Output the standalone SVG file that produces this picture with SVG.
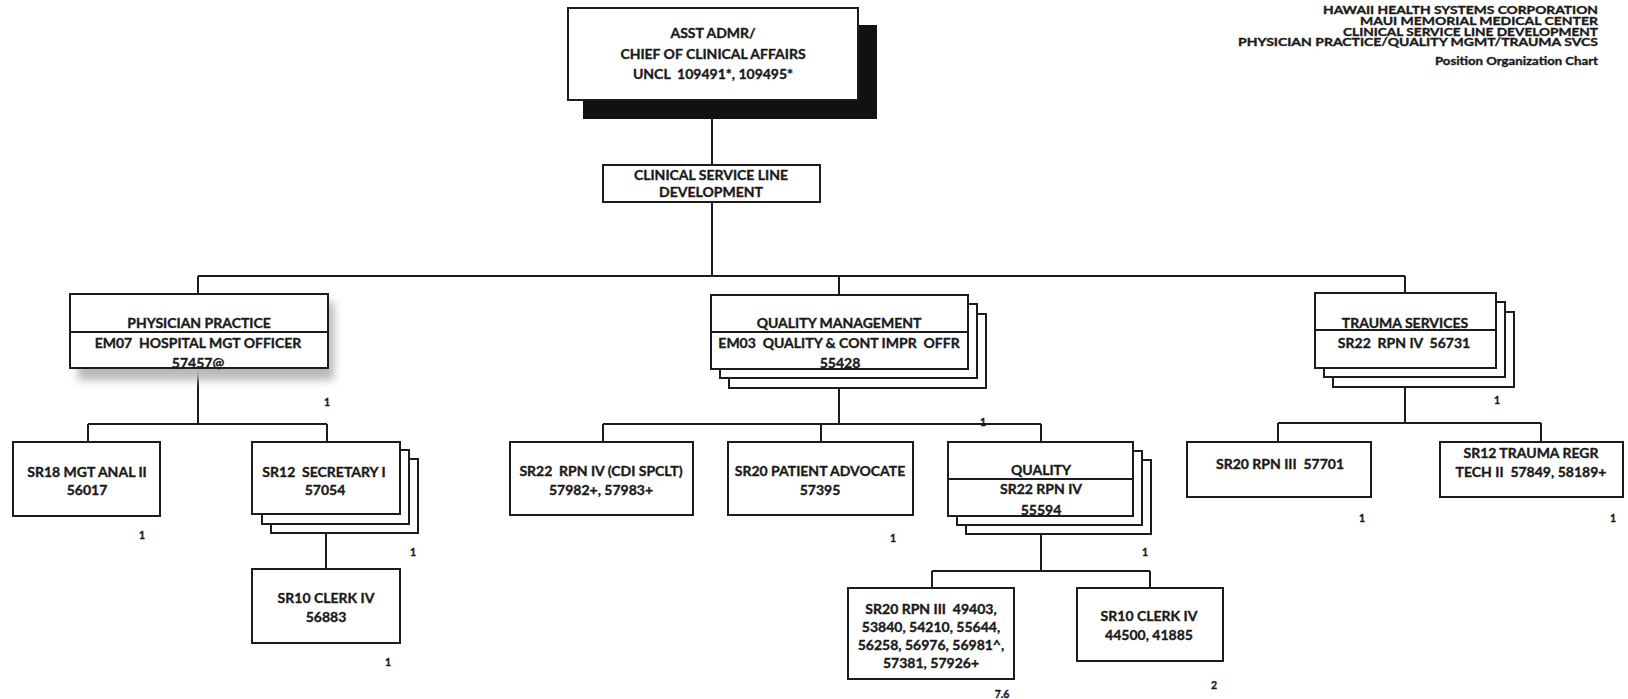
<svg xmlns="http://www.w3.org/2000/svg" width="1628" height="699" viewBox="0 0 1628 699">
<style>
.box{fill:#fff;stroke:#1c1c1c;stroke-width:2}
.ln{stroke:#1c1c1c;stroke-width:2;fill:none}
text{font-family:Lato,"Liberation Sans",sans-serif;font-weight:700;fill:#1a1a1a;stroke:#1a1a1a;stroke-width:0.35;white-space:pre}
.t{font-size:14px;text-anchor:middle}
.h{font-size:11.5px;text-anchor:end}
.n{font-size:10.5px;text-anchor:middle}
</style>
<defs>
<filter id="soft" x="-20%" y="-30%" width="140%" height="160%"><feGaussianBlur stdDeviation="4"/></filter>
</defs>
<rect width="1628" height="699" fill="#fff"/>

<g id="header">
<text class="h" x="1598" y="14" textLength="275" lengthAdjust="spacingAndGlyphs">HAWAII HEALTH SYSTEMS CORPORATION</text>
<text class="h" x="1598" y="25" textLength="238" lengthAdjust="spacingAndGlyphs">MAUI MEMORIAL MEDICAL CENTER</text>
<text class="h" x="1598" y="36" textLength="255" lengthAdjust="spacingAndGlyphs">CLINICAL SERVICE LINE DEVELOPMENT</text>
<text class="h" x="1598" y="46" textLength="360" lengthAdjust="spacingAndGlyphs">PHYSICIAN PRACTICE/QUALITY MGMT/TRAUMA SVCS</text>
<text class="h" x="1598" y="65" textLength="163" lengthAdjust="spacingAndGlyphs">Position Organization Chart</text>
</g>

<g id="connectors">
<path class="ln" d="M712 119V165M712 202V276M198 276H1405M198 276V294M839 276V295M1405 276V293"/>
<path class="ln" d="M198 368V424M88 424H327M88 424V442M327 424V442M326 514V569"/>
<path class="ln" d="M839 369V424M603 424H1041M603 424V442M821 424V442M1041 424V442"/>
<path class="ln" d="M1041 516V571M932 571H1150M932 571V588M1150 571V588"/>
<path class="ln" d="M1405 368V423M1278 423H1541M1278 423V442M1541 423V442"/>
</g>

<g id="n-chief">
<rect x="583" y="25" width="294" height="94" fill="#111"/>
<rect class="box" x="568" y="8" width="290" height="92"/>
<text class="t" x="713" y="38">ASST ADMR/</text>
<text class="t" x="713" y="59">CHIEF OF CLINICAL AFFAIRS</text>
<text class="t" x="713" y="79">UNCL  109491*, 109495*</text>
</g>

<g id="n-csl">
<rect class="box" x="603" y="165" width="217" height="37"/>
<text class="t" x="711" y="180">CLINICAL SERVICE LINE</text>
<text class="t" x="711" y="197">DEVELOPMENT</text>
</g>

<g id="n-physician">
<rect x="78" y="302" width="256" height="78" fill="#b8b8b8" filter="url(#soft)"/>
<rect class="box" x="70" y="294" width="258" height="74"/>
<path class="ln" d="M70 332H328"/>
<text class="t" x="199" y="328">PHYSICIAN PRACTICE</text>
<text class="t" x="198" y="348">EM07  HOSPITAL MGT OFFICER</text>
<text class="t" x="198" y="368">57457@</text>
<text class="n" x="327" y="406">1</text>
</g>

<g id="n-qm">
<rect class="box" x="729" y="314" width="257" height="74"/>
<rect class="box" x="720" y="304" width="257" height="74"/>
<rect class="box" x="711" y="295" width="257" height="74"/>
<path class="ln" d="M711 332H968"/>
<text class="t" x="839" y="328">QUALITY MANAGEMENT</text>
<text class="t" x="839" y="348">EM03  QUALITY &amp; CONT IMPR  OFFR</text>
<text class="t" x="840" y="368">55428</text>
<text class="n" x="983" y="426">1</text>
</g>

<g id="n-trauma">
<rect class="box" x="1333" y="312" width="181" height="75"/>
<rect class="box" x="1324" y="302" width="181" height="75"/>
<rect class="box" x="1315" y="293" width="181" height="75"/>
<path class="ln" d="M1315 330H1496"/>
<text class="t" x="1405" y="328">TRAUMA SERVICES</text>
<text class="t" x="1404" y="348">SR22  RPN IV  56731</text>
<text class="n" x="1497" y="404">1</text>
</g>

<g id="n-sr18">
<rect class="box" x="13" y="442" width="147" height="74"/>
<text class="t" x="87" y="477">SR18 MGT ANAL II</text>
<text class="t" x="87" y="495">56017</text>
<text class="n" x="142" y="539">1</text>
</g>

<g id="n-secretary">
<rect class="box" x="271" y="459" width="147" height="74"/>
<rect class="box" x="262" y="450" width="147" height="74"/>
<rect class="box" x="252" y="442" width="148" height="72"/>
<text class="t" x="324" y="477">SR12  SECRETARY I</text>
<text class="t" x="325" y="495">57054</text>
<text class="n" x="413" y="556">1</text>
</g>

<g id="n-clerk1">
<rect class="box" x="252" y="569" width="148" height="74"/>
<text class="t" x="326" y="603">SR10 CLERK IV</text>
<text class="t" x="326" y="622">56883</text>
<text class="n" x="388" y="666">1</text>
</g>

<g id="n-cdi">
<rect class="box" x="510" y="442" width="183" height="73"/>
<text class="t" x="601" y="476">SR22  RPN IV (CDI SPCLT)</text>
<text class="t" x="601" y="495">57982+, 57983+</text>
</g>

<g id="n-advocate">
<rect class="box" x="728" y="442" width="185" height="73"/>
<text class="t" x="820" y="476">SR20 PATIENT ADVOCATE</text>
<text class="t" x="820" y="495">57395</text>
<text class="n" x="893" y="542">1</text>
</g>

<g id="n-quality">
<rect class="box" x="966" y="460" width="185" height="74"/>
<rect class="box" x="957" y="451" width="185" height="74"/>
<rect class="box" x="948" y="442" width="185" height="74"/>
<path class="ln" d="M948 479H1133"/>
<text class="t" x="1041" y="475">QUALITY</text>
<text class="t" x="1041" y="494">SR22 RPN IV</text>
<text class="t" x="1041" y="515">55594</text>
<text class="n" x="1145" y="556">1</text>
</g>

<g id="n-rpn3">
<rect class="box" x="848" y="588" width="166" height="91"/>
<text class="t" x="931" y="614">SR20 RPN III  49403,</text>
<text class="t" x="931" y="632">53840, 54210, 55644,</text>
<text class="t" x="931" y="650">56258, 56976, 56981^,</text>
<text class="t" x="931" y="668">57381, 57926+</text>
<text class="n" x="1002" y="698">7.6</text>
</g>

<g id="n-clerk2">
<rect class="box" x="1077" y="588" width="146" height="73"/>
<text class="t" x="1149" y="621">SR10 CLERK IV</text>
<text class="t" x="1149" y="640">44500, 41885</text>
<text class="n" x="1214" y="689">2</text>
</g>

<g id="n-rpn3b">
<rect class="box" x="1187" y="442" width="184" height="55"/>
<text class="t" x="1280" y="469">SR20 RPN III  57701</text>
<text class="n" x="1362" y="522">1</text>
</g>

<g id="n-regr">
<rect class="box" x="1440" y="442" width="183" height="55"/>
<text class="t" x="1531" y="458">SR12 TRAUMA REGR</text>
<text class="t" x="1531" y="477">TECH II  57849, 58189+</text>
<text class="n" x="1613" y="522">1</text>
</g>
</svg>
